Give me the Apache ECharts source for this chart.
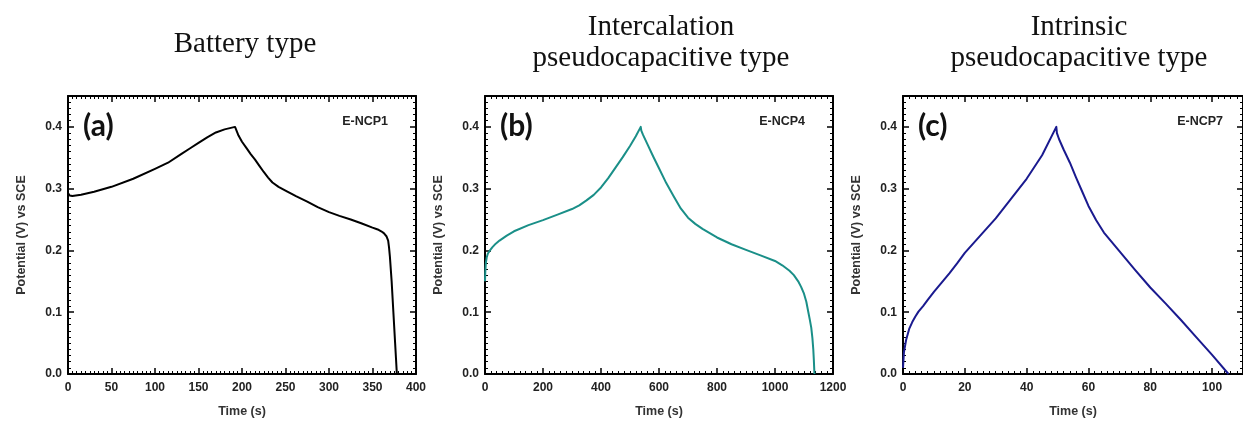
<!DOCTYPE html>
<html>
<head>
<meta charset="utf-8">
<script src="https://cdn.jsdelivr.net/npm/echarts@6/dist/echarts.min.js"></script>
<style>
html,body{margin:0;padding:0;background:#fff;}
#c{width:1243px;height:423px;}
</style>
</head>
<body>
<div id="c"></div>
<script>
// Panel (a) E-NCP1 — battery type
const timeA = [0, 2, 5, 15, 30, 50, 75, 100, 115, 130, 140, 150, 160, 170, 180, 186, 192, 193, 196, 200, 205, 210, 215, 220, 225, 230, 235, 242, 250, 262, 275, 287, 300, 312, 325, 337, 350, 356, 360, 363, 366, 368, 369, 370, 372, 374, 376, 377, 378];
const potA  = [0.293, 0.289, 0.288, 0.290, 0.295, 0.303, 0.316, 0.332, 0.342, 0.356, 0.365, 0.374, 0.383, 0.391, 0.396, 0.398, 0.400, 0.397, 0.386, 0.376, 0.366, 0.356, 0.347, 0.337, 0.327, 0.318, 0.310, 0.303, 0.297, 0.288, 0.279, 0.270, 0.262, 0.256, 0.250, 0.244, 0.237, 0.234, 0.231, 0.228, 0.223, 0.216, 0.205, 0.190, 0.150, 0.100, 0.050, 0.025, 0.000];
// Panel (b) E-NCP4 — intercalation pseudocapacitive
const timeB = [0, 1, 3, 6, 10, 17, 25, 37, 50, 75, 100, 150, 200, 250, 300, 325, 350, 375, 400, 425, 450, 475, 500, 520, 537, 539, 545, 560, 580, 600, 625, 650, 675, 700, 725, 750, 800, 850, 900, 950, 1000, 1025, 1050, 1065, 1080, 1090, 1100, 1108, 1115, 1120, 1125, 1129, 1132, 1134, 1136];
const potB  = [0.150, 0.165, 0.180, 0.189, 0.195, 0.200, 0.205, 0.211, 0.216, 0.224, 0.231, 0.241, 0.249, 0.258, 0.267, 0.273, 0.281, 0.290, 0.302, 0.317, 0.334, 0.351, 0.369, 0.385, 0.400, 0.394, 0.387, 0.372, 0.352, 0.333, 0.309, 0.288, 0.268, 0.253, 0.243, 0.235, 0.221, 0.210, 0.201, 0.192, 0.183, 0.176, 0.167, 0.160, 0.150, 0.141, 0.130, 0.117, 0.100, 0.088, 0.075, 0.058, 0.040, 0.022, 0.000];
// Panel (c) E-NCP7 — intrinsic pseudocapacitive
const timeC = [0, 0.3, 1, 2, 3, 4, 5, 6.5, 8, 10, 12.5, 15, 17.5, 20, 25, 30, 35, 40, 45, 49.6, 49.8, 50.5, 52, 54, 56, 58, 60, 62.5, 65, 70, 75, 80, 85, 90, 95, 100, 105.3];
const potC  = [0.010, 0.035, 0.055, 0.073, 0.084, 0.093, 0.101, 0.110, 0.120, 0.133, 0.148, 0.163, 0.179, 0.196, 0.224, 0.252, 0.284, 0.316, 0.354, 0.400, 0.390, 0.380, 0.363, 0.342, 0.318, 0.295, 0.272, 0.249, 0.229, 0.199, 0.169, 0.140, 0.114, 0.087, 0.059, 0.031, 0.000];

const titlesTop = ["Battery type", "Intercalation", "Intrinsic"];
const titlesBottom = ["", "pseudocapacitive type", "pseudocapacitive type"];
const panelLetters = ["(a)", "(b)", "(c)"];
const sampleNames = ["E-NCP1", "E-NCP4", "E-NCP7"];
const xMax = [400, 1200, 110];
const xInterval = [50, 200, 20];
const yMax = 0.45, yInterval = 0.1;
const lineColors = ["#000000", "#1a8f88", "#1a1a8f"];
const xName = "Time (s)";
const yName = "Potential (V) vs SCE";

const zip = (t, v) => t.map((x, i) => [x, v[i]]);
const seriesData = [zip(timeA, potA), zip(timeB, potB), zip(timeC, potC)];

const gridLefts = [68, 485, 903];
const gridW = 348, gridTop = 96, gridH = 279;

const grids = [], xAxes = [], yAxes = [], series = [], graphics = [];
const lineSty = {color: '#000', width: 2};
const tick = {show: true, inside: true, length: 6, lineStyle: {color: '#000', width: 1.5}};
const minor = {show: true, splitNumber: 10, length: 3, lineStyle: {color: '#000', width: 1}};
const lblFont = {fontFamily: 'Liberation Sans, Arial, sans-serif', fontWeight: 'bold', fontSize: 12, color: '#222'};

for (let i = 0; i < 3; i++) {
  grids.push({left: gridLefts[i], top: gridTop, width: gridW, height: gridH});
  const xb = {
    type: 'value', gridIndex: i, min: 0, max: xMax[i], interval: xInterval[i],
    axisLine: {show: true, onZero: false, lineStyle: lineSty},
    axisTick: tick, minorTick: minor, splitLine: {show: false}, minorSplitLine: {show: false}
  };
  xAxes.push(Object.assign({}, xb, {
    position: 'bottom',
    name: xName, nameLocation: 'middle', nameGap: 31,
    nameTextStyle: Object.assign({}, lblFont, {fontSize: 12.5, color: '#333'}),
    axisLabel: Object.assign({}, lblFont, {margin: 8, showMaxLabel: i !== 2, formatter: v => String(v)})
  }));
  xAxes.push(Object.assign({}, xb, {position: 'top', axisLabel: {show: false}}));
  const yb = {
    type: 'value', gridIndex: i, min: 0, max: yMax, interval: yInterval,
    axisLine: {show: true, onZero: false, lineStyle: lineSty},
    axisTick: tick, minorTick: minor, splitLine: {show: false}, minorSplitLine: {show: false}
  };
  yAxes.push(Object.assign({}, yb, {
    position: 'left',
    name: yName, nameLocation: 'middle', nameGap: 40,
    nameTextStyle: Object.assign({}, lblFont, {fontSize: 12.5, color: '#333'}),
    axisLabel: Object.assign({}, lblFont, {margin: 6, showMaxLabel: false, formatter: v => v.toFixed(1)})
  }));
  yAxes.push(Object.assign({}, yb, {position: 'right', axisLabel: {show: false}}));
  series.push({
    type: 'line', xAxisIndex: 2 * i, yAxisIndex: 2 * i,
    data: seriesData[i], showSymbol: false, symbol: 'none',
    smooth: false,
    lineStyle: {color: lineColors[i], width: 2, join: 'round'}, z: 3
  });
}

const titleCenters = [245, 661, 1079];
for (let i = 0; i < 3; i++) {
  const serif = {fontFamily: 'Liberation Serif, Times New Roman, serif', fontSize: 29, fill: '#111', align: 'center', verticalAlign: 'middle'};
  if (titlesBottom[i]) {
    graphics.push({type: 'text', style: Object.assign({text: titlesTop[i], x: titleCenters[i], y: 27}, serif)});
    graphics.push({type: 'text', style: Object.assign({text: titlesBottom[i], x: titleCenters[i], y: 58}, serif)});
  } else {
    graphics.push({type: 'text', style: Object.assign({text: titlesTop[i], x: titleCenters[i], y: 44}, serif)});
  }
  graphics.push({type: 'text', style: {text: panelLetters[i], x: gridLefts[i] + 15, y: 126,
    fontFamily: 'Lato, Open Sans, sans-serif', fontWeight: 'bold', fontSize: 30, fill: '#111', align: 'left', verticalAlign: 'middle'}});
  graphics.push({type: 'text', style: {text: sampleNames[i], x: gridLefts[i] + 320, y: 122,
    fontFamily: 'Liberation Sans, Arial, sans-serif', fontWeight: 'bold', fontSize: 12.5, fill: '#222', align: 'right', verticalAlign: 'middle'}});
}

const chart = echarts.init(document.getElementById('c'), null, {renderer: 'canvas'});
chart.setOption({
  animation: false,
  backgroundColor: '#fff',
  grid: grids, xAxis: xAxes, yAxis: yAxes, series: series, graphic: graphics
});
</script>
</body>
</html>
